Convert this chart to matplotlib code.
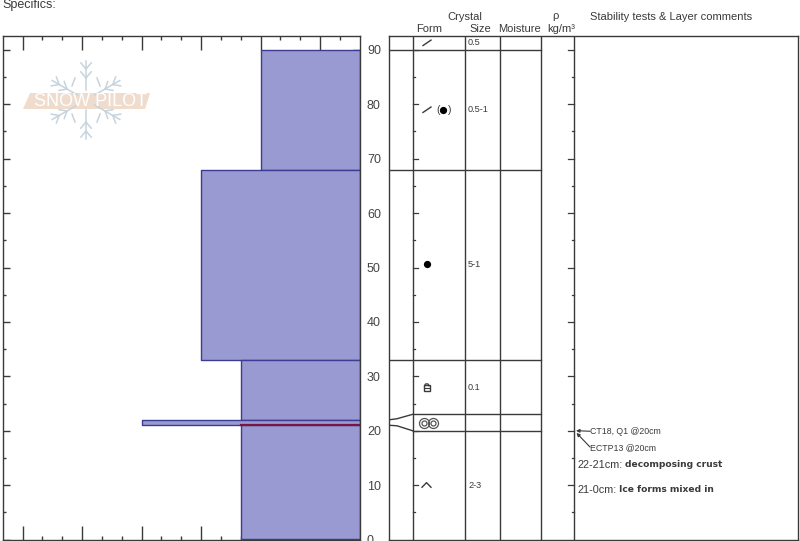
import numpy as np
import matplotlib
matplotlib.use("Agg")
import matplotlib.pyplot as plt
from matplotlib.lines import Line2D
from matplotlib.patches import Polygon

plt.rcParams['font.family'] = ['Liberation Sans', 'DejaVu Sans']

# ---- data ----
layer_top = [90, 68, 33, 22, 21]
layer_bottom = [68, 33, 22, 21, 0]
hardness = [2.0, 3.0, 2.33, 4.0, 2.33]
grid_depths = [90, 68, 33, 23, 20]
form_depths = [91.3, 79, 50.6, 28, 21.5, 10]
size_labels = ['0.5', '0.5-1', '5-1', '0.1', '', '2-3']
size_depths = [91.3, 79, 50.6, 28, 0, 10]
height_ticks = list(range(0, 100, 10))
hard_major = [1, 2, 3, 4, 5, 6]

W, H = 800, 541
fig = plt.figure(figsize=(8, 5.41), dpi=100, facecolor='white')
TOP, BOT = 36, 539.5
YMAX = (BOT - TOP) / 5.44
DARK = '#3a3a3a'
GREY = '#444444'


def axpx(x0, x1):
    return fig.add_axes([x0 / W, 1 - BOT / H, (x1 - x0) / W, (BOT - TOP) / H])


def fx(x):
    return x / W


def fy(y):
    return 1 - y / H


# ---- hardness panel ----
ax = axpx(3, 360)
ax.set_xlim(6.33, 0.33)
ax.set_ylim(0, YMAX)
for t, b, h in zip(layer_top, layer_bottom, hardness):
    ax.fill_between([h, 0.33], b, t, facecolor='#9a9ad2', edgecolor='#3c3c92', lw=1.0, zorder=2)
ax.plot([2.33, 0.33], [21, 21], color='#7a1440', lw=1.6, zorder=3)
ax.set_xticks(hard_major)
ax.set_xticks([v for v in np.arange(1, 6, 1 / 3)] + [2 / 3 + 0.0], minor=True)
ax.tick_params(axis='x', which='major', direction='in', top=True, bottom=True, length=10,
               width=1, color=DARK, labelbottom=False)
ax.tick_params(axis='x', which='minor', direction='in', top=True, bottom=True, length=3,
               width=1, color=DARK)
ax.set_yticks(height_ticks)
ax.set_yticks(list(range(5, 95, 10)), minor=True)
ax.tick_params(axis='y', which='major', direction='in', left=True, right=True, length=5,
               width=1, color=DARK, labelleft=False, labelright=True, pad=5,
               labelsize=9, labelcolor=GREY)
ax.tick_params(axis='y', which='minor', direction='in', left=True, right=True, length=2.5,
               width=1, color=DARK)
for s in ax.spines.values():
    s.set_color(DARK)
    s.set_linewidth(1.0)

# ---- table panel ----
tb = axpx(389, 798)
tb.set_xlim(389, 798)
tb.set_ylim(0, YMAX)
tb.set_xticks([])
tb.set_yticks([])
for s in tb.spines.values():
    s.set_color(DARK)
    s.set_linewidth(1.0)
for x in [412.5, 465, 500, 541, 574]:
    tb.plot([x, x], [0, YMAX], color=DARK, lw=1.0)
for d in grid_depths:
    x0 = 412.5 if d in (23, 20) else 389
    tb.plot([x0, 541], [d, d], color=DARK, lw=1.0)
tb.plot([389, 397, 412.5], [22, 22.2, 23], color=DARK, lw=1.0)
tb.plot([389, 397, 412.5], [21, 20.9, 20], color=DARK, lw=1.0)
for d in height_ticks[1:]:
    tb.plot([412.5, 418], [d, d], color=DARK, lw=0.9)
    tb.plot([568, 574], [d, d], color=DARK, lw=0.9)
for d in range(5, 95, 10):
    tb.plot([412.5, 415], [d, d], color=DARK, lw=0.9)
    tb.plot([571.5, 574], [d, d], color=DARK, lw=0.9)

for d, s in zip(size_depths, size_labels):
    if s:
        tb.text(468, d, s, fontsize=6.6, color=DARK, va='center', ha='left')

# grain symbols
tb.plot([423, 431], [form_depths[0] - 0.5, form_depths[0] + 0.5], color=DARK, lw=1)
tb.plot([423, 431], [form_depths[1] - 0.5, form_depths[1] + 0.5], color=DARK, lw=1)
tb.text(438, form_depths[1], '(', fontsize=7.5, ha='center', va='center', color=DARK)
tb.text(449.5, form_depths[1], ')', fontsize=7.5, ha='center', va='center', color=DARK)
tb.plot([442.5], [form_depths[1]], 'o', ms=4.2, color='black')
tb.plot([426.5], [form_depths[2]], 'o', ms=4.2, color='black')
tb.plot([426.7], [form_depths[3] - 0.15], marker='s', ms=3.8, mfc='none', mec=DARK, mew=1)
tb.plot([424.2, 429.2], [form_depths[3] - 0.15, form_depths[3] - 0.15], color=DARK, lw=0.8)
tb.plot([424.5, 425.5, 428, 429], [form_depths[3] + 0.25, form_depths[3] + 0.6,
                                    form_depths[3] + 0.6, form_depths[3] + 0.25], color=DARK, lw=0.9)
for x in [424, 433]:
    tb.plot([x], [form_depths[4]], 'o', ms=7.2, mfc='none', mec='#555555', mew=0.9)
    tb.plot([x], [form_depths[4]], 'o', ms=3.6, mfc='none', mec='#555555', mew=0.9)
tb.plot([422, 426.5, 431], [form_depths[5] - 0.4, form_depths[5] + 0.45, form_depths[5] - 0.4],
        color=DARK, lw=1)

# test annotations
tb.annotate('', xy=(576, 20), xytext=(590, 19.9),
            arrowprops=dict(arrowstyle='-|>', lw=0.8, color=DARK, mutation_scale=5,
                            shrinkA=0, shrinkB=0))
tb.annotate('', xy=(576.5, 19.6), xytext=(590, 17.0),
            arrowprops=dict(arrowstyle='-|>', lw=0.8, color=DARK, mutation_scale=5,
                            shrinkA=0, shrinkB=0))
tb.text(590, 19.85, 'CT18, Q1 @20cm', fontsize=6.3, va='center', color=DARK)
tb.text(590, 16.9, 'ECTP13 @20cm', fontsize=6.3, va='center', color=DARK)
cfg = dict(transform=fig.transFigure, va='center', color=DARK)
fig.text(fx(577.5), fy(464.5), '22-21cm:', fontsize=7.8, **cfg)
fig.text(fx(625), fy(464.5), 'decomposing crust', fontsize=6.6, family='DejaVu Sans',
         fontweight='bold', **cfg)
fig.text(fx(577.5), fy(490), '21-0cm:', fontsize=7.8, **cfg)
fig.text(fx(619), fy(490), 'Ice forms mixed in', fontsize=6.6, family='DejaVu Sans',
         fontweight='bold', **cfg)

# ---- header ----
fs = 8
fig.text(fx(2), fy(5), 'Specifics:', fontsize=9, color=DARK, ha='left', va='center')
for x, y, s in [(416.5, 29.5, 'Form'), (469, 29.5, 'Size'),
                (498.5, 29.5, 'Moisture'), (590, 17.5, 'Stability tests & Layer comments')]:
    fig.text(fx(x), fy(y), s, fontsize=fs, color=DARK, ha='left', va='center')
fig.text(fx(465), fy(17.5), 'Crystal', fontsize=fs, color=DARK, ha='center', va='center')
fig.text(fx(555.5), fy(16), 'ρ', fontsize=fs, color=DARK, ha='center', va='center')
fig.text(fx(561), fy(28.5), 'kg/m³', fontsize=fs, color=DARK, ha='center', va='center')

# ---- watermark ----
cx, cy = 86, 100
flake = '#c6d4de'
for ang in np.arange(0, 360, 60):
    a = np.radians(ang + 90)
    d = np.array([np.cos(a), np.sin(a)])
    tipx, tipy = cx + 39 * d[0], cy + 39 * d[1]
    fig.add_artist(Line2D([fx(cx + 10 * d[0]), fx(tipx)], [fy(cy + 10 * d[1]), fy(tipy)],
                          color=flake, lw=1.1))
    for r in (22, 31):
        for sgn in (-1, 1):
            b = a + sgn * np.radians(40)
            px, py = cx + r * d[0], cy + r * d[1]
            fig.add_artist(Line2D([fx(px), fx(px + 8 * np.cos(b))], [fy(py), fy(py + 8 * np.sin(b))],
                                  color=flake, lw=1.1))
for sx in (-1, 1):
    for sy in (-1, 1):
        fig.add_artist(Line2D([fx(cx + sx * 14), fx(cx + sx * 11)],
                              [fy(cy + sy * 14), fy(cy + sy * 22)], color=flake, lw=1.1))
fig.add_artist(Polygon([(fx(30), fy(93)), (fx(150), fy(93)), (fx(145), fy(109)), (fx(23), fy(109))],
                       closed=True, facecolor='#efdccd', edgecolor='none',
                       transform=fig.transFigure))
fig.text(fx(90), fy(101.5), 'SNOW PILOT', fontsize=13, color='white', ha='center', va='center')

fig.savefig('out.png', dpi=100)
